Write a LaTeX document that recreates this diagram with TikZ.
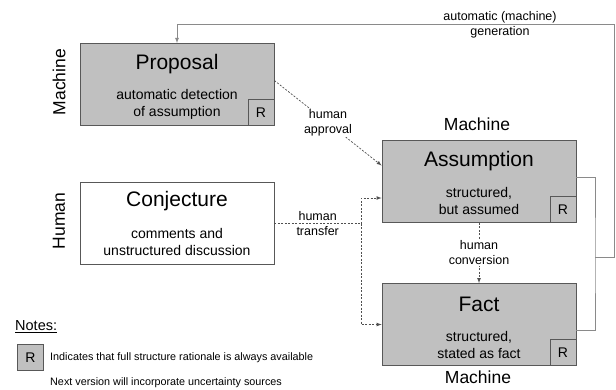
\documentclass[tikz,border=0pt]{standalone}
\usepackage{fontspec}
\setmainfont{Liberation Sans}
\usetikzlibrary{arrows}

\definecolor{boxgray}{HTML}{C0C0C0}
\definecolor{edgegray}{HTML}{585858}
\definecolor{linegray}{HTML}{8A8A8A}
\definecolor{dashgray}{HTML}{505050}

\tikzset{
  stage/.style={draw=edgegray, line width=0.8pt, minimum width=194pt, minimum height=82pt, inner sep=0pt},
  rbox/.style={draw=edgegray, line width=0.8pt, fill=boxgray, minimum width=26pt, minimum height=26pt, inner sep=0pt, font=\fontsize{14}{16}\selectfont},
  title/.style={inner sep=0pt, font=\fontsize{21}{25}\selectfont},
  sub/.style={inner sep=0pt, align=center, font=\fontsize{14}{16.5}\selectfont},
  tag/.style={inner sep=1pt, align=center, font=\fontsize{12.5}{15}\selectfont},
  side/.style={inner sep=0pt, font=\fontsize{17.5}{20}\selectfont},
  human/.style={draw=dashgray, line width=0.7pt, dash pattern=on 2pt off 1.5pt},
  feed/.style={draw=linegray, line width=0.8pt}
}

\begin{document}
\begin{tikzpicture}[x=1pt,y=-1pt]
    \useasboundingbox (0,0) rectangle (616,389);
    % stages
    \node[stage,fill=boxgray](prop)at(177,84.5){};
    \node[stage,fill=white](conj)at(177,223.5){};
    \node[stage,fill=boxgray](asmp)at(479,181.5){};
    \node[stage,fill=boxgray](fact)at(479,324.5){};
    \node[rbox,anchor=south east](propR)at(prop.south east){R};
    \node[rbox,anchor=south east](asmpR)at(asmp.south east){R};
    \node[rbox,anchor=south east](factR)at(fact.south east){R};
    \node[title](propT)at(177,64){Proposal};
    \node[sub](propS)at(177,104.5){automatic detection\\of assumption};
    \node[title](conjT)at(177,201){Conjecture};
    \node[sub](conjS)at(177,242){comments and\\unstructured discussion};
    \node[title](asmpT)at(479,161){Assumption};
    \node[sub](asmpS)at(479,201){structured,\\but assumed};
    \node[title](factT)at(479,304){Fact};
    \node[sub](factS)at(479,345){structured,\\stated as fact};
    % who works on each stage
    \node[side,rotate=90](machA)at(59,82){Machine};
    \node[side,rotate=90](humC)at(59,221){Human};
    \node[side](machB)at(477,124){Machine};
    \node[side](machD)at(478,377){Machine};
    % human steps
    \draw[human,-latex]([yshift=4pt]prop.east)--node[tag,fill=white](appr){human\\approval}([yshift=16pt]asmp.west);
    \draw[human](conj.east)--node[tag](trans){human\\transfer}(361,223.5)coordinate(split);
    \draw[human,-latex](split)|-([yshift=-16.5pt]asmp.west);
    \draw[human,-latex](split)|-(fact.west);
    \draw[human,-latex](asmp.south)--node[tag,fill=white](conv){human\\conversion}(fact.north);
    % machine feedback
    \draw[feed]([yshift=4.5pt]asmp.east)-|(595,257)coordinate(join)|-([yshift=-5.5pt]fact.east);
    \draw[feed,-latex](join)--(614,257)--(614,24)-|(prop.north);
    \node[tag](gen)at(500,24.5){automatic (machine)\\generation};
    % notes
    \node[anchor=west,inner sep=0pt,font=\fontsize{14.5}{17}\selectfont](notes)at(15,327){\underline{Notes:}};
    \node[rbox](keyR)at(30.5,357.5){R};
    \node[anchor=west,inner sep=0pt,font=\fontsize{10.8}{13}\selectfont](keyT)at(50,358){Indicates that full structure rationale is always available};
    \node[anchor=west,inner sep=0pt,font=\fontsize{10.8}{13}\selectfont](nextT)at(50,383){Next version will incorporate uncertainty sources};
\end{tikzpicture}
\end{document}
